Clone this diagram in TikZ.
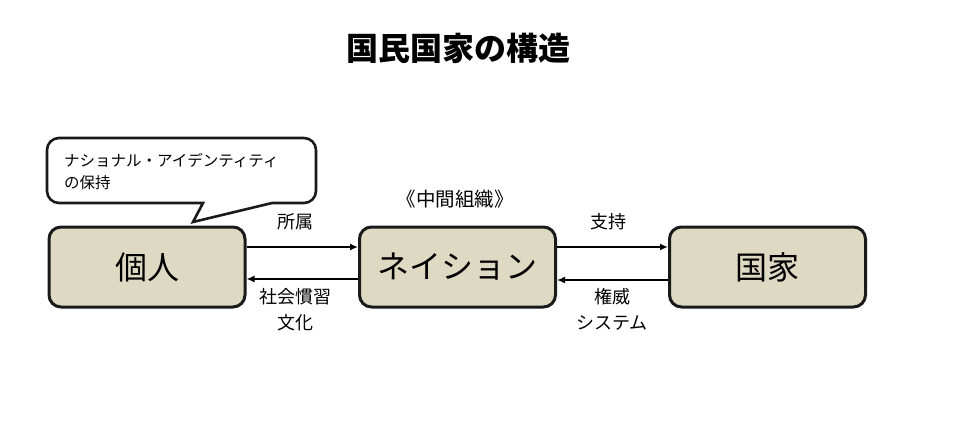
\documentclass[tikz,border=0pt]{standalone}
\usepackage{fontspec}
\setmainfont{Noto Sans CJK JP}
\usetikzlibrary{arrows.meta}
\definecolor{boxfill}{HTML}{DDD9C3}
\definecolor{edge}{HTML}{1A1A1A}
\tikzset{
  mainbox/.style={draw=edge, line width=3pt, fill=boxfill, rounded corners=12pt,
    minimum width=196pt, minimum height=80pt, inner sep=0pt, font=\fontsize{32}{36}\selectfont},
  arr/.style={line width=2.8pt, draw=black, -{Latex[length=8pt,width=7pt]}},
  lab/.style={font=\fontsize{18}{20}\selectfont, inner sep=0pt},
}
\begin{document}
\begin{tikzpicture}[x=1pt,y=-1pt]
\useasboundingbox (0,0) rectangle (960,439);
\node[font=\bfseries\fontsize{32}{36}\selectfont] (title) at (458,48) {国民国家の構造};
\node[mainbox] (kojin) at (147,267) {個人};
\node[mainbox] (nation) at (457.5,267) {ネイション};
\node[mainbox] (kokka) at (767.5,267) {国家};
\node[font=\fontsize{19.5}{22}\selectfont] (chukan) at (455,199) {《中間組織》};
% arrows
\draw[arr] ([yshift=20pt]kojin.east) -- ([yshift=20pt]nation.west);
\draw[arr] ([yshift=-12pt]nation.west) -- ([yshift=-12pt]kojin.east);
\draw[arr] ([yshift=20pt]nation.east) -- ([yshift=20pt]kokka.west);
\draw[arr] ([yshift=-13pt]kokka.west) -- ([yshift=-13pt]nation.east);
% labels
\node[lab] (shozoku) at (295,222) {所属};
\node[lab] (shakai) at (295,297) {社会慣習};
\node[lab] (bunka) at (295,323) {文化};
\node[lab] (shiji) at (608,222) {支持};
\node[lab] (ken) at (612,297) {権威};
\node[lab] (system) at (612,323) {システム};
% callout
\draw[draw=edge, line width=2.6pt, fill=white, line join=miter]
  (203,203) -- (193,222) -- (272,203) [rounded corners=12pt] -- (316,203) -- (316,138) -- (47,138) -- (47,203) [rounded corners=0pt] -- cycle;
\node[anchor=north west, align=left, inner sep=0pt, font=\fontsize{15.5}{22}\selectfont] (callout) at (64,153)
  {ナショナル・アイデンティティ\\の保持};
\end{tikzpicture}
\end{document}
